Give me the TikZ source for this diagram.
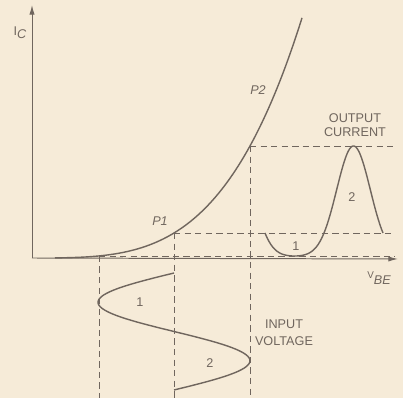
\documentclass[tikz,border=0pt]{standalone}
\usepackage{fontspec}
\setmainfont{Liberation Sans}
\usetikzlibrary{arrows.meta}
\definecolor{paper}{RGB}{246,235,216}
\definecolor{ink}{RGB}{112,102,94}

\begin{document}
\begin{tikzpicture}[x=0.025cm,y=-0.025cm,
  declare function={ic(\v)=258-25*((\v-20)/154)^3.74;},
  axis/.style={ink,line width=0.7pt,-{Latex[length=2.4mm,width=1.3mm]}},
  trace/.style={ink,line width=1pt},
  guide/.style={ink,line width=0.6pt,dash pattern=on 4.5pt off 3pt},
  lbl/.style={ink,font=\fontsize{9}{10}\selectfont,align=center},
  num/.style={ink,font=\fontsize{9}{10}\selectfont}
]
  % paper
  \fill[paper] (0,0) rectangle (403,398);
  \useasboundingbox (0,0) rectangle (403,398);

  % reference points
  \coordinate (O) at (32,258);
  \coordinate (ytip) at (32,5);
  \coordinate (xtip) at (398,259);
  \coordinate (bot) at (0,398);
  \coordinate (rgt) at (395,0);
  \coordinate (Q) at (99,{ic(99)});
  \coordinate (P1) at (174,{ic(174)});
  \coordinate (P2) at (250,{ic(250)});

  % guide lines
  \draw[guide] (Q) -- (Q |- bot);
  \draw[guide] (Q) -- (Q -| rgt);
  \draw[guide] (P1) -- (P1 |- bot);
  \draw[guide] (P1) -- (P1 -| rgt);
  \draw[guide] (P2) -- (P2 |- bot);
  \draw[guide] (P2) -- (P2 -| rgt);

  % axes
  \draw[axis] (O) -- (ytip);
  \draw[axis] (O) -- (xtip);

  % transfer curve
  \draw[trace] plot[domain=55:302,samples=90] (\x,{ic(\x)});

  % input voltage
  \draw[trace] plot[domain=273:390,samples=70,variable=\t]
    ({174-76*sin((\t-273)/117*360)},\t);

  % output current
  \draw[trace] plot[domain=0:360,samples=100,variable=\t]
    ({265+\t/360*118},{ic(174-76*sin(\t))});

  % labels
  \node[num] (ic) at (20,33) {I\raisebox{-0.5ex}{\itshape C}};
  \node[num] (vbe) at (379,278) {\raisebox{0.6ex}{\fontsize{7}{8}\selectfont V}\raisebox{-0.3ex}{\itshape BE}};
  \node[num,font=\fontsize{9}{10}\selectfont\itshape] (p1) at (160,221) {P1};
  \node[num,font=\fontsize{9}{10}\selectfont\itshape] (p2) at (258,90) {P2};
  \node[lbl] (out) at (355,125) {OUTPUT\\CURRENT};
  \node[lbl,font=\fontsize{9}{12}\selectfont] (in) at (284,333) {INPUT\\VOLTAGE};
  \node[num] (o1) at (296,246) {1};
  \node[num] (o2) at (352,197) {2};
  \node[num] (i1) at (140,302) {1};
  \node[num] (i2) at (210,363) {2};
\end{tikzpicture}
\end{document}
